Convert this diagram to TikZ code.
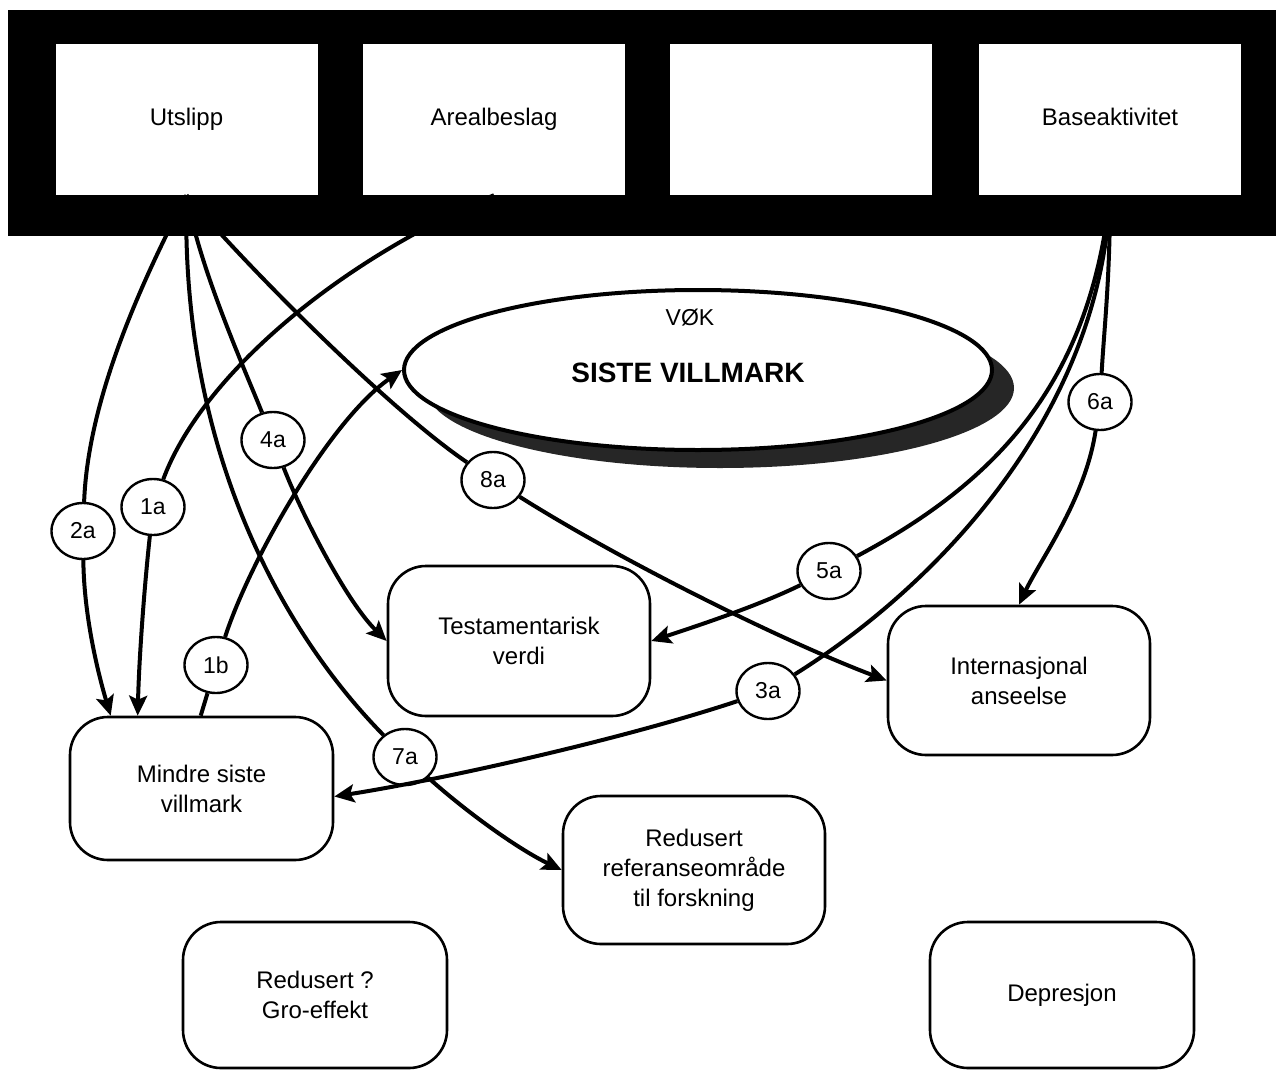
\documentclass[tikz,border=0pt]{standalone}
\usepackage{fontspec}
\setmainfont{Liberation Sans}
\usetikzlibrary{shapes.geometric,arrows.meta,calc}
\begin{document}
\begin{tikzpicture}[x=1pt,y=-1pt,
  topbox/.style={fill=white, minimum width=262pt, minimum height=151pt, inner sep=0pt,
                 text height=17pt, text depth=5pt, font=\fontsize{24}{29}\selectfont},
  effect/.style={draw, line width=2.6pt, rounded corners=38pt, fill=white, align=center,
                 inner sep=0pt, font=\fontsize{24}{30}\selectfont},
  tag/.style={draw, ellipse, line width=2.4pt, fill=white, minimum width=63pt,
              minimum height=56pt, inner sep=0pt, font=\fontsize{23}{27}\selectfont},
  link/.style={line width=4pt},
  linkarrow/.style={link, -{Stealth[length=20pt,width=18pt,inset=4pt]}},
]
\useasboundingbox (0,0) rectangle (1276,1070);
\fill[white] (0,0) rectangle (1276,1070);

% header band with the four source boxes
\fill[black] (8,10) rectangle (1276,236);
\node[topbox] (utslipp) at (186.5,119.5) {Utslipp};
\node[topbox] (areal)   at (494,119.5)   {Arealbeslag};
\node[topbox] (blank)   at (801,119.5)   {};
\node[topbox] (base)    at (1110,119.5)  {Baseaktivitet};

% central value with drop shadow
\node[ellipse, fill=black!85, minimum width=588pt, minimum height=160pt] (skygge) at (720,388) {};
\node[ellipse, draw, line width=4pt, fill=white, minimum width=588pt, minimum height=160pt] (siste) at (698,370) {};
\node[font=\fontsize{23}{27}\selectfont] (vok) at (690,318) {VØK};
\node[font=\bfseries\fontsize{28}{32}\selectfont] (villmark) at (688,373) {SISTE VILLMARK};

% effect boxes
\node[effect, minimum width=262pt, minimum height=150pt] (testam) at (519,641)   {Testamentarisk\\verdi};
\node[effect, minimum width=262pt, minimum height=149pt] (intern) at (1019,680.5) {Internasjonal\\anseelse};
\node[effect, minimum width=263pt, minimum height=143pt] (mindre) at (201.5,788.5) {Mindre siste\\villmark};
\node[effect, minimum width=262pt, minimum height=148pt] (redref) at (694,870)   {Redusert\\referanseområde\\til forskning};
\node[effect, minimum width=264pt, minimum height=146pt] (gro)    at (315,995)   {Redusert ?\\Gro-effekt};
\node[effect, minimum width=264pt, minimum height=146pt] (depr)   at (1062,995)  {Depresjon};

% effect labels
\node[tag] (t2a) at (83,531)   {2a};
\node[tag] (t1a) at (153,507)  {1a};
\node[tag] (t4a) at (273,440)  {4a};
\node[tag] (t1b) at (216,665)  {1b};
\node[tag] (t8a) at (493,480)  {8a};
\node[tag] (t5a) at (829,571)  {5a};
\node[tag] (t3a) at (768,691)  {3a};
\node[tag] (t6a) at (1100,402) {6a};
\node[tag] (t7a) at (405,757)  {7a};

% 2a: Utslipp -> Mindre siste villmark
\draw[link] (utslipp.south) .. controls (140,285) and (88,400) .. (t2a);
\draw[linkarrow] (t2a) .. controls (84,620) and (100,680) .. ($(mindre.north west)+(42,0)$);
% 1a: Arealbeslag -> Mindre siste villmark
\draw[link] (areal.south) .. controls (330,265) and (200,380) .. (t1a);
\draw[linkarrow] (t1a) .. controls (144,590) and (139,660) .. ($(mindre.north west)+(69,0)$);
% 4a: Utslipp -> Testamentarisk verdi
\draw[link] (utslipp.south) .. controls (200,270) and (245,370) .. (t4a);
\draw[linkarrow] (t4a) .. controls (300,510) and (345,600) .. (testam.west);
% 7a: Utslipp -> Redusert referanseområde
\draw[link] (utslipp.south) .. controls (180,460) and (290,640) .. (t7a);
\draw[linkarrow] (t7a) .. controls (470,815) and (520,850) .. (redref.west);
% 8a: Utslipp -> Internasjonal anseelse
\draw[link] (utslipp.south) .. controls (250,270) and (390,410) .. (t8a);
\draw[linkarrow] (t8a) .. controls (620,560) and (780,640) .. (intern.west);
% 1b: Mindre siste villmark -> SISTE VILLMARK
\draw[link] ($(mindre.north west)+(132,0)$) -- (t1b);
\draw[linkarrow] (t1b) .. controls (250,560) and (330,420) .. (siste.west);
% 5a: Baseaktivitet -> Testamentarisk verdi
\draw[link] (base.south) .. controls (1090,380) and (1000,480) .. (t5a);
\draw[linkarrow] (t5a) .. controls (760,605) and (700,625) .. (testam.east);
% 3a: Baseaktivitet -> Mindre siste villmark
\draw[link] (base.south) .. controls (1100,420) and (930,590) .. (t3a);
\draw[linkarrow] (t3a) .. controls (620,740) and (440,780) .. ($(mindre.east)+(0,8)$);
% 6a: Baseaktivitet -> Internasjonal anseelse
\draw[link] (base.south) .. controls (1110,280) and (1104,330) .. (t6a);
\draw[linkarrow] (t6a) .. controls (1085,500) and (1040,560) .. (intern.north);
\end{tikzpicture}
\end{document}
